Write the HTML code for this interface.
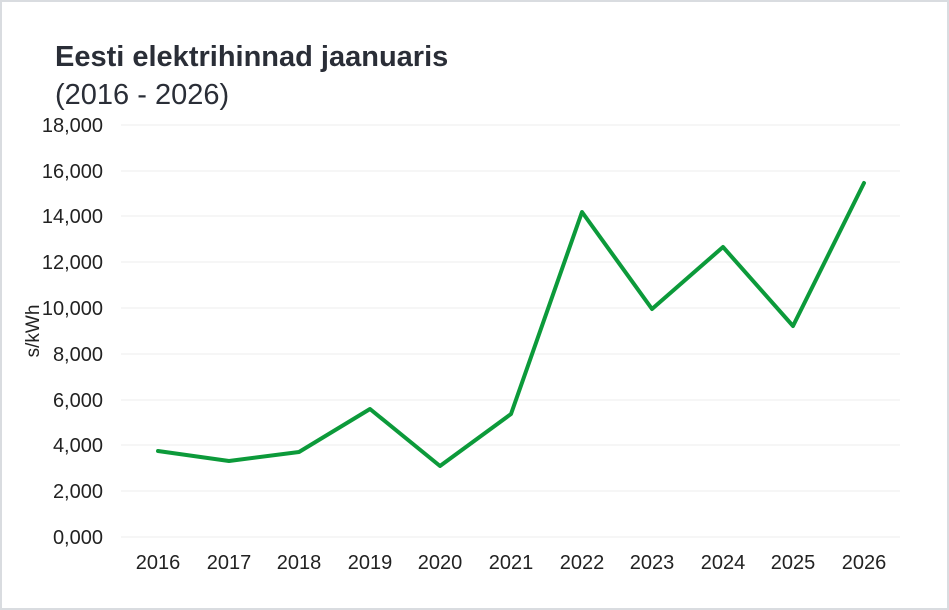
<!DOCTYPE html>
<html><head><style>
body{margin:0;background:#fff;}
svg{display:block;font-family:"Liberation Sans",sans-serif;}
</style></head><body>
<svg width="949" height="610" xmlns="http://www.w3.org/2000/svg">
<rect x="1" y="1" width="947" height="608" fill="#fff" stroke="#d9dce0" stroke-width="2"/>
<text x="55" y="66" font-size="29" font-weight="bold" fill="#2a2e37">Eesti elektrihinnad jaanuaris</text>
<text x="55" y="104" font-size="29" fill="#2a2e37">(2016 - 2026)</text>
<g stroke="#ececec" stroke-width="1">
<line x1="121" x2="900" y1="125" y2="125"/><line x1="121" x2="900" y1="171" y2="171"/>
<line x1="121" x2="900" y1="216" y2="216"/><line x1="121" x2="900" y1="262" y2="262"/>
<line x1="121" x2="900" y1="308" y2="308"/><line x1="121" x2="900" y1="354" y2="354"/>
<line x1="121" x2="900" y1="400" y2="400"/><line x1="121" x2="900" y1="445" y2="445"/>
<line x1="121" x2="900" y1="491" y2="491"/><line x1="121" x2="900" y1="537" y2="537"/>
</g>
<g font-size="20" fill="#222" text-anchor="end">
<text x="103" y="132">18,000</text><text x="103" y="178">16,000</text>
<text x="103" y="223">14,000</text><text x="103" y="269">12,000</text>
<text x="103" y="315">10,000</text><text x="103" y="361">8,000</text>
<text x="103" y="407">6,000</text><text x="103" y="452">4,000</text>
<text x="103" y="498">2,000</text><text x="103" y="544">0,000</text>
</g>
<g font-size="20" fill="#222" text-anchor="middle">
<text x="158" y="569">2016</text><text x="229" y="569">2017</text><text x="299" y="569">2018</text>
<text x="370" y="569">2019</text><text x="440" y="569">2020</text><text x="511" y="569">2021</text>
<text x="582" y="569">2022</text><text x="652" y="569">2023</text><text x="723" y="569">2024</text>
<text x="793" y="569">2025</text><text x="864" y="569">2026</text>
</g>
<text transform="translate(39,331) rotate(-90)" font-size="19" fill="#222" text-anchor="middle">s/kWh</text>
<polyline fill="none" stroke="#0c9a3a" stroke-width="4" stroke-linejoin="round" stroke-linecap="round"
points="158,451 229,461 299,452 370,409 440,466 511,414 582,212 652,309 723,247 793,326 864,183"/>
</svg>
</body></html>
